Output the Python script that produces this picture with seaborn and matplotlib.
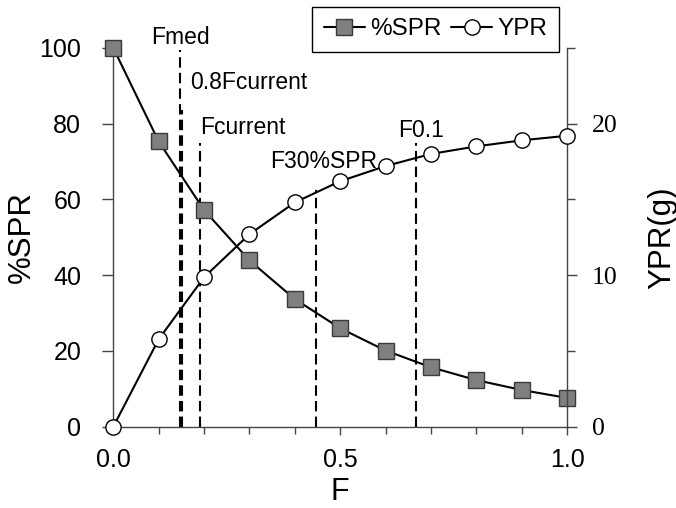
import matplotlib
matplotlib.use("Agg")
import matplotlib.pyplot as plt
import seaborn as sns
import pandas as pd
from matplotlib.ticker import MultipleLocator, FixedLocator
from matplotlib.lines import Line2D

# ---- data ----
F = [0.0, 0.1, 0.2, 0.3, 0.4, 0.5, 0.6, 0.7, 0.8, 0.9, 1.0]
spr = [100, 75.3, 57.2, 43.9, 33.7, 26.0, 20.1, 15.7, 12.3, 9.7, 7.6]
ypr = [0, 5.77, 9.86, 12.7, 14.8, 16.2, 17.2, 18.0, 18.5, 18.9, 19.2]
ref_names = ["Fmed", "0.8Fcurrent", "Fcurrent", "F30%SPR", "F0.1"]
ref_F = [0.147, 0.152, 0.19, 0.447, 0.667]
ref_top = [99.5, 83.5, 75.0, 62.4, 75.0]
label_x = [0.149, 0.169, 0.191, 0.345, 0.627]
label_y = [102.8, 90.9, 79.0, 70.1, 78.2]
label_ha = ["center", "left", "left", "left", "left"]

df = pd.DataFrame({"F": F, "SPR": spr, "YPR": ypr})

sns.set_style("ticks")
plt.rcParams["font.family"] = ["Liberation Sans", "DejaVu Sans"]
plt.rcParams.update({"text.color": "black", "axes.labelcolor": "black",
                     "xtick.color": "black", "ytick.color": "black"})

fig = plt.figure(figsize=(6.76, 5.08), dpi=100)
ax = fig.add_axes([113.3 / 676, 1 - 426.7 / 508, (567 - 113.3) / 676, (426.7 - 47.9) / 508])
ax2 = ax.twinx()

# reference vertical lines
for xv, top in zip(ref_F, ref_top):
    ax.vlines(xv, 0, top, colors="black", linestyles=(0, (5, 2.5)), linewidth=1.5, zorder=1)
for name, xv, yv, ha in zip(ref_names, label_x, label_y, label_ha):
    ax.text(xv, yv, name, ha=ha, va="center", fontsize=16.5, color="black", clip_on=False)

sns.lineplot(data=df, x="F", y="SPR", ax=ax, color="black", linewidth=1.5,
             marker="s", markersize=11, markerfacecolor="#7f7f7f",
             markeredgecolor="#3a3a3a", markeredgewidth=1.0, clip_on=False, zorder=3)
sns.lineplot(data=df, x="F", y="YPR", ax=ax2, color="black", linewidth=1.5,
             marker="o", markersize=11, markerfacecolor="white",
             markeredgecolor="black", markeredgewidth=1.0, clip_on=False, zorder=3)

ax.set_xlim(0, 1)
ax.set_ylim(0, 100)
ax2.set_ylim(0, 25)

ax.xaxis.set_major_locator(FixedLocator([0.0, 0.5, 1.0]))
ax.xaxis.set_minor_locator(MultipleLocator(0.1))
ax.set_xticklabels(["0.0", "0.5", "1.0"])
ax.yaxis.set_major_locator(MultipleLocator(20))
ax2.yaxis.set_major_locator(FixedLocator([0, 10, 20]))
ax2.yaxis.set_minor_locator(FixedLocator([5, 15, 25]))

spine_col = "#444444"
for a in (ax, ax2):
    for s in a.spines.values():
        s.set_color(spine_col)
        s.set_linewidth(1.0)
    a.spines["top"].set_visible(False)
ax.spines["right"].set_visible(False)
ax2.spines["left"].set_visible(False)
ax2.spines["bottom"].set_visible(False)

ax.tick_params(axis="x", which="major", direction="out", length=6, width=1, color=spine_col,
               labelsize=18, pad=9, labelcolor="black")
ax.tick_params(axis="x", which="minor", direction="out", length=5, width=1, color=spine_col)
ax.tick_params(axis="y", which="major", direction="out", length=8, width=1, color=spine_col,
               labelsize=18, pad=15, labelcolor="black")
ax2.tick_params(axis="y", which="major", direction="out", length=7, width=1, color=spine_col,
                labelsize=18.5, pad=11, labelcolor="black")
ax2.tick_params(axis="y", which="minor", direction="out", length=6, width=1, color=spine_col)
for lab in ax2.get_yticklabels():
    lab.set_fontfamily(["Liberation Serif", "DejaVu Serif"])

ax.set_xlabel("F", fontsize=22, labelpad=4, color="black")
ax.set_ylabel("%SPR", fontsize=22.5, labelpad=2, color="black")
ax2.set_ylabel("YPR(g)", fontsize=22.5, labelpad=21, color="black")

handles = [
    Line2D([], [], color="black", linewidth=1.5, marker="s", markersize=11,
           markerfacecolor="#7f7f7f", markeredgecolor="#3a3a3a"),
    Line2D([], [], color="black", linewidth=1.5, marker="o", markersize=11,
           markerfacecolor="white", markeredgecolor="black"),
]
leg = fig.legend(handles, ["%SPR", "YPR"], loc="upper right",
                 bbox_to_anchor=(559 / 676, 1 - 7 / 508), ncol=2, fontsize=17.5,
                 frameon=True, fancybox=False, edgecolor="black", framealpha=1,
                 handlelength=1.68, handletextpad=0.23, columnspacing=0.4,
                 borderpad=0.47, borderaxespad=0)
leg.get_frame().set_linewidth(1.0)
for t in leg.get_texts():
    t.set_color("black")

fig.savefig("out.png", dpi=100)
